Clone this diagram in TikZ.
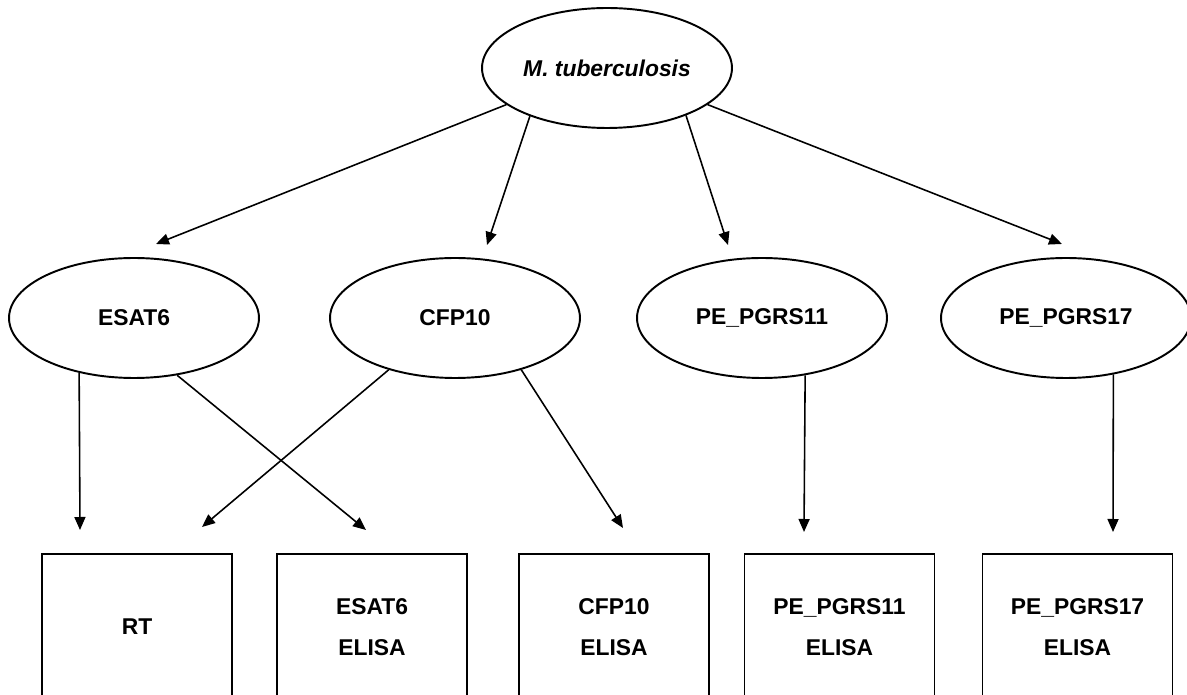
\documentclass[tikz,border=0pt]{standalone}
\usepackage{fontspec}
\setmainfont{Liberation Sans}
\usetikzlibrary{shapes.geometric,arrows.meta}
\tikzset{font=\fontsize{13}{15.6}\selectfont\bfseries}

\begin{document}
\begin{tikzpicture}[x=0.02cm, y=-0.02cm, line width=0.9pt, >={Triangle[length=2.6mm, width=2.2mm]}]
	\useasboundingbox (0,0) rectangle (1187,695);
	\clip (0,0) rectangle (1187,695);
	\begin{scope}
		\tikzstyle{every node}=[align=center, inner sep=1pt]
		\tikzstyle{antigen}=[draw, ellipse, line width=1.1pt, minimum width=5cm, minimum height=2.4cm]
		\tikzstyle{assay}=[draw, rectangle, line width=1.1pt, minimum width=3.8cm, minimum height=2.92cm]
		\node[antigen] (mtb) at (607, 68) {\itshape M. tuberculosis};
		\node[antigen] (esat) at (134, 318) {ESAT6};
		\node[antigen] (cfp) at (455, 318) {CFP10};
		\node[antigen] (pgrs11) at (762, 318) {PE\_PGRS11};
		\node[antigen] (pgrs17) at (1066, 318) {PE\_PGRS17};

		\node[assay] (rt) at (137, 627) {RT};
		\node[assay] (esatelisa) at (372, 627) {ESAT6\\[8pt]ELISA};
		\node[assay] (cfpelisa) at (614, 627) {CFP10\\[8pt]ELISA};
		\node[assay] (pgrs11elisa) at (839.5, 627) {PE\_PGRS11\\[8pt]ELISA};
		\node[assay] (pgrs17elisa) at (1077.5, 627) {PE\_PGRS17\\[8pt]ELISA};

		% arrow tips stop short of the targets
		\coordinate (tesat) at (156, 244);
		\coordinate (tcfp) at (487, 245);
		\coordinate (tpgrs11) at (728, 245);
		\coordinate (tpgrs17) at (1062, 244);
		\coordinate (trt1) at (80, 530);
		\coordinate (trt2) at (202, 527);
		\coordinate (tesatelisa) at (366, 530);
		\coordinate (tcfpelisa) at (623, 528);
		\coordinate (tpgrs11elisa) at (804, 532);
		\coordinate (tpgrs17elisa) at (1113, 532);

		\draw[->] (mtb.200) -- (tesat);
		\draw[->] (mtb.212) -- (tcfp);
		\draw[->] (mtb.-31) -- (tpgrs11);
		\draw[->] (mtb.-20) -- (tpgrs17);
		\draw[->] (esat.225) -- (trt1);
		\draw[->] (esat.-53) -- (tesatelisa);
		\draw[->] (cfp.218) -- (trt2);
		\draw[->] (cfp.-38) -- (tcfpelisa);
		\draw[->] (pgrs11.-53) -- (tpgrs11elisa);
		\draw[->] (pgrs17.-50) -- (tpgrs17elisa);
	\end{scope}
\end{tikzpicture}
\end{document}
